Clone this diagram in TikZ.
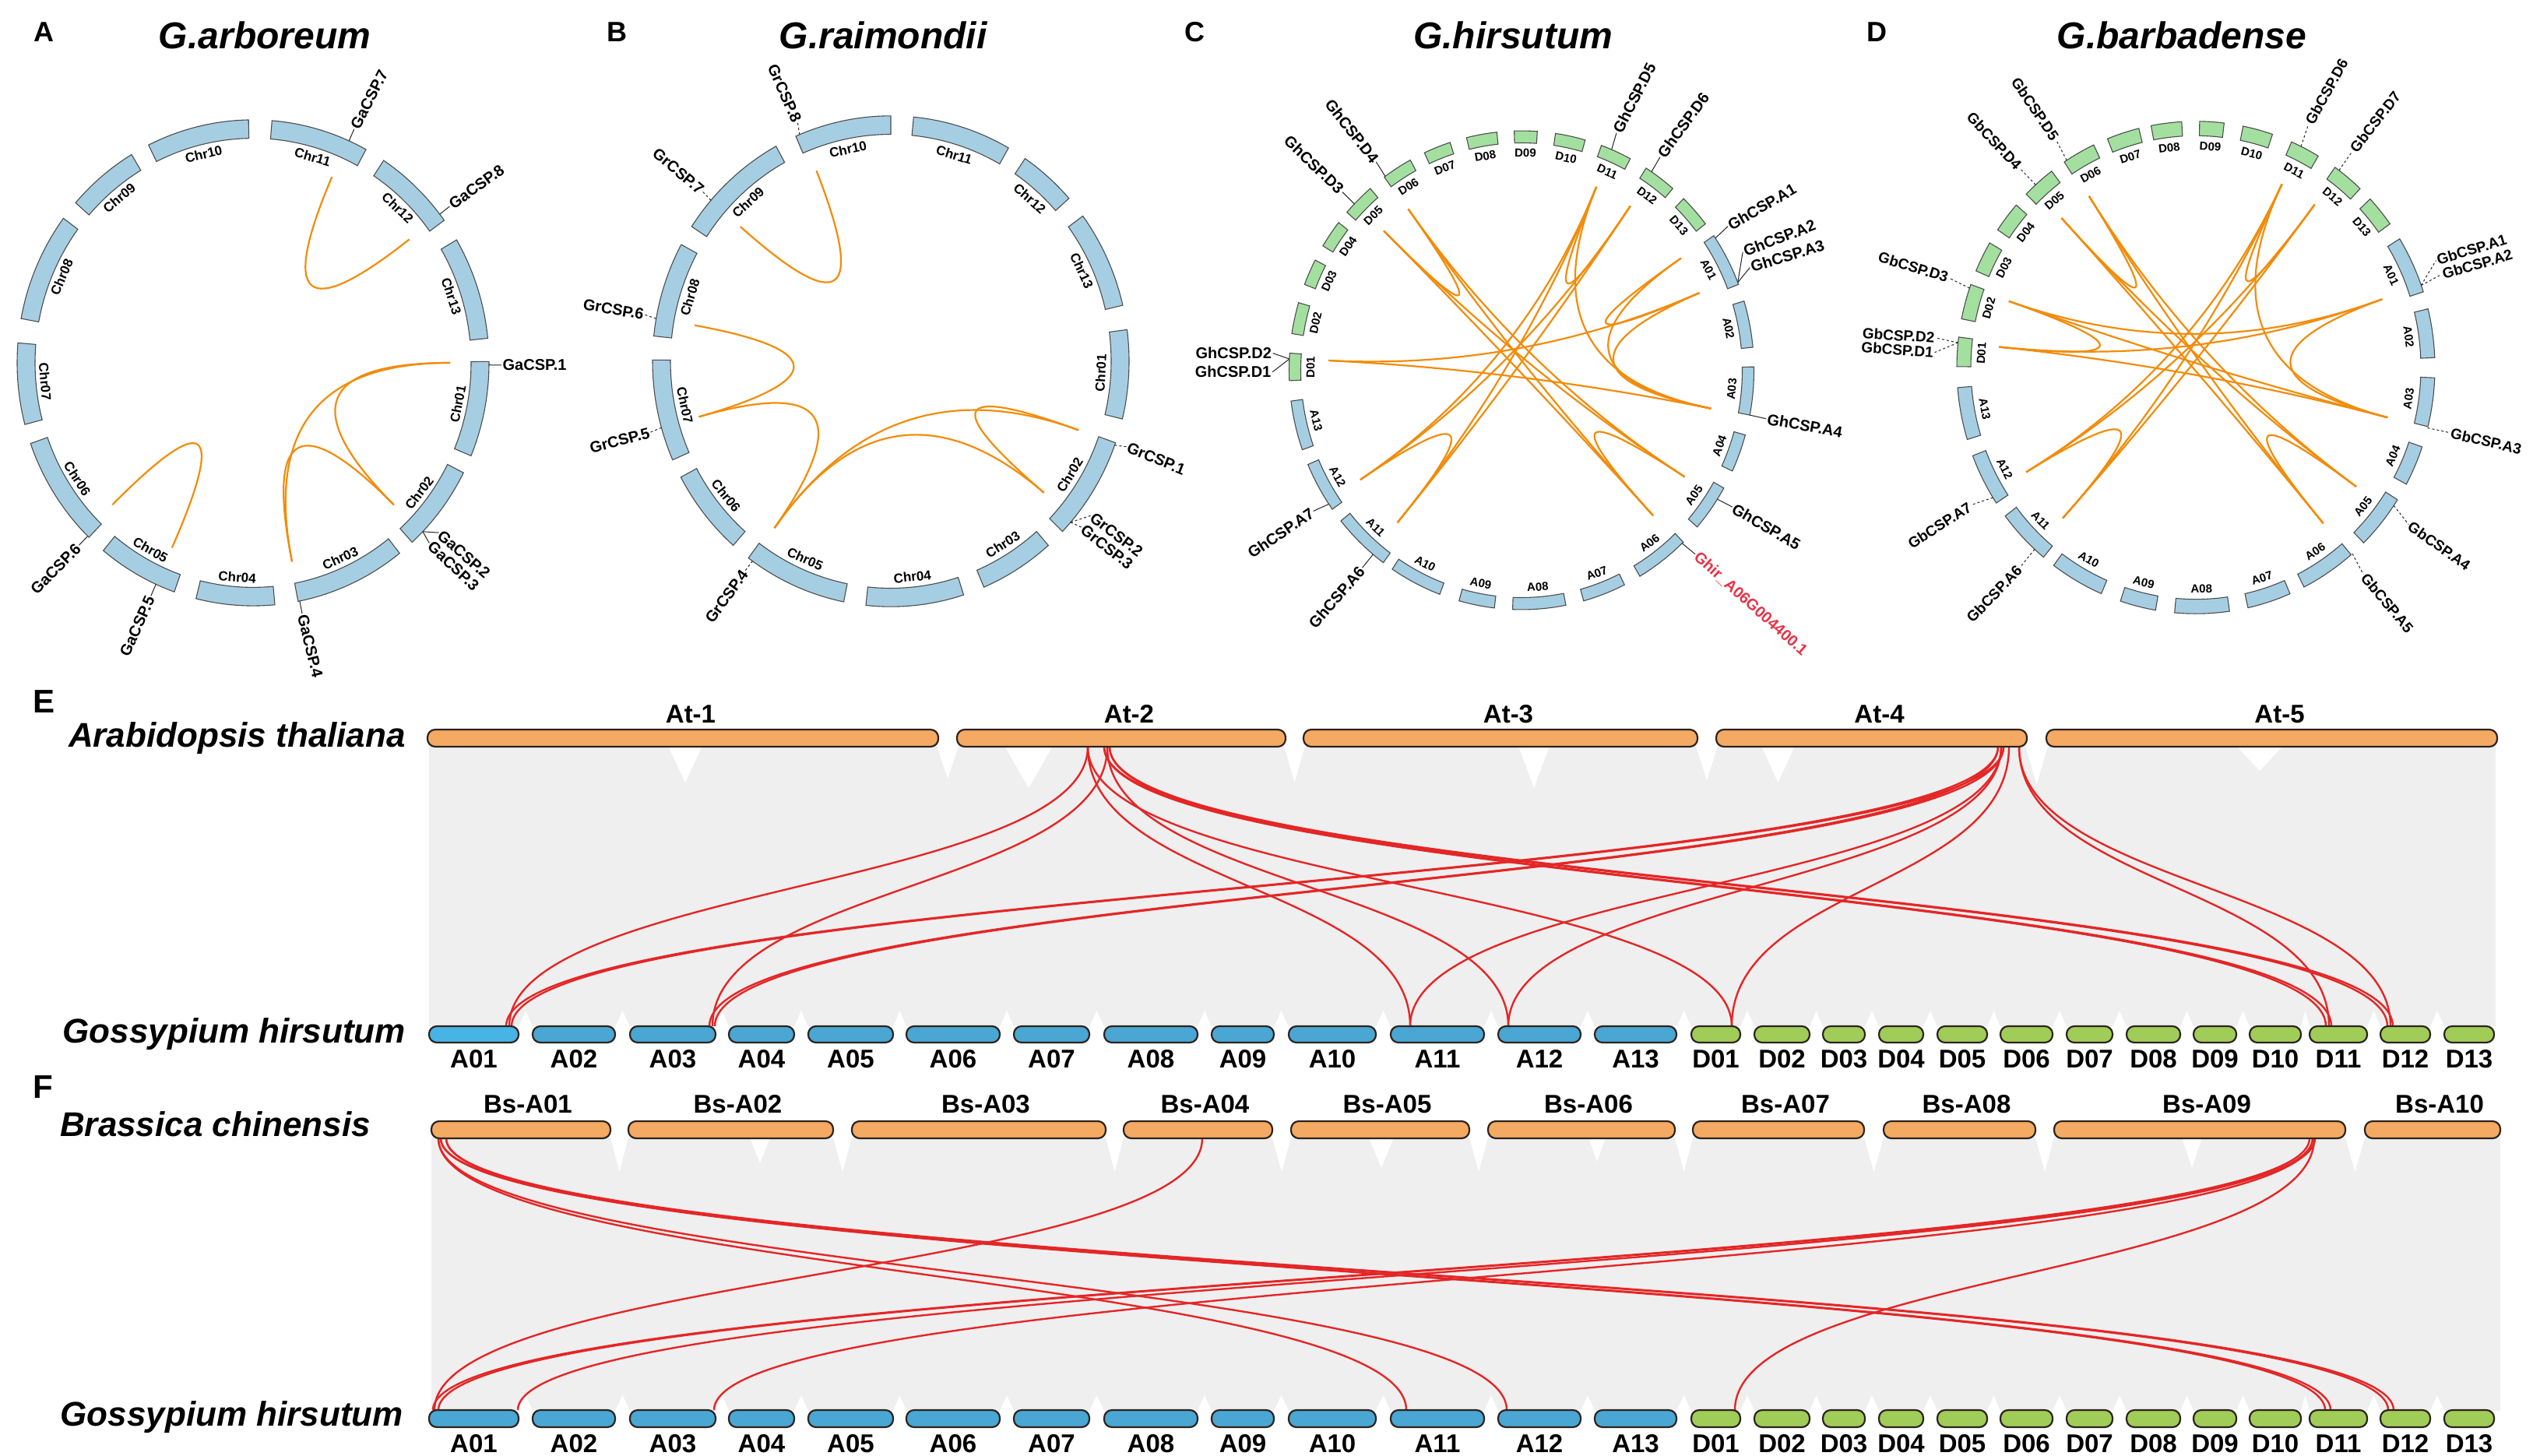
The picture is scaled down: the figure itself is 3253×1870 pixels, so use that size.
\documentclass[tikz,border=0pt]{standalone}
\usepackage{fontspec}
\setmainfont{Liberation Sans}
\definecolor{chrblue}{RGB}{166,206,227}
\definecolor{chrgreen}{RGB}{163,224,160}
\definecolor{linkorange}{RGB}{242,140,10}
\definecolor{atorange}{RGB}{244,170,98}
\definecolor{ghblue}{RGB}{74,166,210}
\definecolor{ghblueA}{RGB}{72,180,230}
\definecolor{ghgreen}{RGB}{160,204,88}
\definecolor{ribbon}{RGB}{239,239,239}
\definecolor{redlink}{RGB}{228,38,38}
\definecolor{ghirred}{RGB}{232,50,70}
\definecolor{barline}{RGB}{45,35,30}

\newcommand\ChrBar[4]{%
  \path[#4] (#1:\Ro) arc[start angle=#1, end angle=#2, radius=\Ro] -- (#2:\Ri) arc[start angle=#2, end angle=#1, radius=\Ri] -- cycle;%
  \pgfmathsetmacro\Cmid{(#1+#2)/2}%
  \pgfmathsetmacro\Crot{sin(\Cmid)>=0 ? \Cmid-90 : \Cmid+90}%
  \node[chrlab, rotate=\Crot] at (\Cmid:\Rl) {#3};%
}
\newcommand\GeneLab[5][black]{%
  \draw[leader] (#2:\Ro) -- (#3:\Rt);%
  \pgfmathsetmacro\Canc{cos(#3)>=0 ? 1 : 0}%
  \ifdim\Canc pt>0.5pt
    \node[genelab, text=#1, anchor=west, rotate=#4] at (#3:\Rt) {#5};%
  \else
    \node[genelab, text=#1, anchor=east, rotate=#4] at (#3:\Rt) {#5};%
  \fi
}
\newcommand\CLink[2]{\draw[circlink] (#1:\Rk) .. controls (#1:\Rkc) and (#2:\Rkc) .. (#2:\Rk);}
\newcommand\RLink[4]{\draw[redlk] (#1,#2) .. controls (#1,{(#2+#4)/2}) and (#3,{(#2+#4)/2}) .. (#3,#4);}
\newcommand\Spike[4]{\fill[white] (#1,#3) -- (#2,#3) -- ({(#1+#2)/2},#4) -- cycle;}

\begin{document}
\begin{tikzpicture}[x=1pt,y=-1pt,
  chrbar/.style={fill=chrblue, draw=black!70, line width=1.1},
  chrbarD/.style={fill=chrgreen, draw=black!70, line width=1.1},
  chrlab/.style={font=\fontsize{17}{17}\selectfont\bfseries, inner sep=0},
  genelab/.style={font=\fontsize{20}{20}\selectfont\bfseries, inner sep=1.5},
  leader/.style={draw=black!85, line width=1},
  circlink/.style={draw=linkorange, line width=2.2},
  title/.style={font=\fontsize{48}{48}\selectfont\bfseries\itshape, inner sep=0},
  letter/.style={font=\fontsize{36}{36}\selectfont\bfseries, inner sep=0},
  species/.style={font=\fontsize{44}{44}\selectfont\bfseries\itshape, inner sep=0},
  barlab/.style={font=\fontsize{33}{33}\selectfont\bfseries, inner sep=0},
  atbar/.style={fill=atorange, draw=barline, line width=2.2, rounded corners=10},
  ghbarA/.style={fill=ghblue, draw=barline, line width=2.2, rounded corners=10},
  ghbarD/.style={fill=ghgreen, draw=barline, line width=2.2, rounded corners=10},
  redlk/.style={draw=redlink, line width=2.4}
]
\useasboundingbox (0,0) rectangle (3253,1870);
\fill[white] (0,0) rectangle (3253,1870);

%% ---------- titles and letters ----------
\node[letter, anchor=base west] (lA) at (43,54) {A};
\node[letter, anchor=base west] (lB) at (779,54) {B};
\node[letter, anchor=base west] (lC) at (1521,54) {C};
\node[letter, anchor=base west] (lD) at (2397,54) {D};
\node[title, anchor=base] (tA) at (340,63) {G.arboreum};
\node[title, anchor=base] (tB) at (1134,63) {G.raimondii};
\node[title, anchor=base] (tC) at (1943,63) {G.hirsutum};
\node[title, anchor=base] (tD) at (2802,63) {G.barbadense};

%% ---------- panel A ----------
\begin{scope}[shift={(325,466)}, yscale=-1.03]
\def\Ro{303}\def\Ri{280}\def\Rl{268}\def\Rk{253}\def\Rkc{84.3}\def\Rt{319}
\ChrBar{0.3}{-22.5}{Chr01}{chrbar}
\ChrBar{-26.9}{-47.6}{Chr02}{chrbar}
\ChrBar{-51.6}{-79}{Chr03}{chrbar}
\ChrBar{-84.7}{-104}{Chr04}{chrbar}
\ChrBar{-109.5}{-129.4}{Chr05}{chrbar}
\ChrBar{-134.1}{-160.6}{Chr06}{chrbar}
\ChrBar{-165.3}{-184.7}{Chr07}{chrbar}
\ChrBar{169.5}{143.5}{Chr08}{chrbar}
\ChrBar{138.8}{121}{Chr09}{chrbar}
\ChrBar{116.3}{91.1}{Chr10}{chrbar}
\ChrBar{85.4}{61.4}{Chr11}{chrbar}
\ChrBar{56.4}{35.9}{Chr12}{chrbar}
\ChrBar{30.4}{5.8}{Chr13}{chrbar}
\GeneLab{-0.5}{-0.5}{0}{GaCSP.1}
\GeneLab{-44}{-41.6}{-41}{GaCSP.2}
\GeneLab{-44}{-44.8}{-43.5}{GaCSP.3}
\GeneLab{-78.6}{-78.6}{-76}{GaCSP.4}
\GeneLab{-114.3}{-114.3}{65.7}{GaCSP.5}
\GeneLab{-134.5}{-134.5}{45.5}{GaCSP.6}
\GeneLab{66}{66}{63}{GaCSP.7}
\GeneLab{37.7}{37.7}{36}{GaCSP.8}
\CLink{66.4}{37.5}
\CLink{0}{-78.6}
\CLink{0}{-44.4}
\CLink{-78.6}{-44.4}
\CLink{-135.6}{-114.3}
\end{scope}

%% ---------- panel B ----------
\begin{scope}[shift={(1144,464)}, yscale=-1.03, leader/.style={draw=black!85, line width=1, dashed}]
\def\Ro{306}\def\Ri{283}\def\Rl{270}\def\Rk{256}\def\Rkc{85.3}\def\Rt{321}
\ChrBar{7.4}{-13.6}{Chr01}{chrbar}
\ChrBar{-19.4}{-43.9}{Chr02}{chrbar}
\ChrBar{-48.6}{-67}{Chr03}{chrbar}
\ChrBar{-72.2}{-96}{Chr04}{chrbar}
\ChrBar{-101.4}{-126.7}{Chr05}{chrbar}
\ChrBar{-131.4}{-151.8}{Chr06}{chrbar}
\ChrBar{-156.3}{-180.3}{Chr07}{chrbar}
\ChrBar{174.1}{151.6}{Chr08}{chrbar}
\ChrBar{146.7}{118.8}{Chr09}{chrbar}
\ChrBar{113.5}{90}{Chr10}{chrbar}
\ChrBar{84.5}{60.4}{Chr11}{chrbar}
\ChrBar{55.7}{41.6}{Chr12}{chrbar}
\ChrBar{36.3}{13.2}{Chr13}{chrbar}
\GeneLab{-20}{-19.4}{-22}{GrCSP.1}
\GeneLab{-41}{-36.8}{-37}{GrCSP.2}
\GeneLab{-41}{-40.2}{-38}{GrCSP.3}
\GeneLab{-125.5}{-125.6}{54}{GrCSP.4}
\GeneLab{-164.3}{-164}{15}{GrCSP.5}
\GeneLab{170}{169.6}{-10}{GrCSP.6}
\GeneLab{139}{138.8}{-40}{GrCSP.7}
\GeneLab{112.5}{111.9}{-66}{GrCSP.8}
\CLink{111.9}{139}
\CLink{169.9}{-164.3}
\CLink{-164.3}{-125.7}
\CLink{-125.7}{-19.6}
\CLink{-125.7}{-39.8}
\CLink{-19.6}{-39.8}
\end{scope}

%% ---------- panel C ----------
\begin{scope}[shift={(1954,475.5)}, yscale=-1.03,
  chrlab/.style={font=\fontsize{15}{15}\selectfont\bfseries, inner sep=0}]
\def\Ro{298.5}\def\Ri{283.5}\def\Rl{271}\def\Rk{248}\def\Rkc{82.7}\def\Rt{320}
\ChrBar{34.2}{21}{A01}{chrbar}
\ChrBar{16.8}{5.5}{A02}{chrbar}
\ChrBar{0.8}{-10.8}{A03}{chrbar}
\ChrBar{-15.7}{-24.9}{A04}{chrbar}
\ChrBar{-29.5}{-40.9}{A05}{chrbar}
\ChrBar{-45.9}{-59.4}{A06}{chrbar}
\ChrBar{-63.7}{-74.5}{A07}{chrbar}
\ChrBar{-79}{-92.2}{A08}{chrbar}
\ChrBar{-96.7}{-105.6}{A09}{chrbar}
\ChrBar{-110.6}{-123.8}{A10}{chrbar}
\ChrBar{-126.5}{-141}{A11}{chrbar}
\ChrBar{-144.5}{-156.8}{A12}{chrbar}
\ChrBar{-160.6}{-172.6}{A13}{chrbar}
\ChrBar{-177.5}{-184.1}{D01}{chrbarD}
\ChrBar{171.2}{163.6}{D02}{chrbarD}
\ChrBar{159}{152.6}{D03}{chrbarD}
\ChrBar{148.7}{141.9}{D04}{chrbarD}
\ChrBar{138.7}{130.6}{D05}{chrbarD}
\ChrBar{126.2}{118.6}{D06}{chrbarD}
\ChrBar{114.7}{107.9}{D07}{chrbarD}
\ChrBar{103.7}{96.1}{D08}{chrbarD}
\ChrBar{91.8}{86.1}{D09}{chrbarD}
\ChrBar{81.6}{74.1}{D10}{chrbarD}
\ChrBar{69.9}{62.1}{D11}{chrbarD}
\ChrBar{57.6}{49.4}{D12}{chrbarD}
\ChrBar{45.8}{37.7}{D13}{chrbarD}
\GeneLab{33.5}{34.1}{30}{GhCSP.A1}
\GeneLab{21.5}{27.4}{21}{GhCSP.A2}
\GeneLab{21.5}{23.6}{17}{GhCSP.A3}
\GeneLab{-10.8}{-10.9}{-10}{GhCSP.A4}
\GeneLab{-32.6}{-32.2}{-30}{GhCSP.A5}
\GeneLab[ghirred]{-46.3}{-45.8}{-42}{Ghir\_A06G004400.1}
\GeneLab{-129.7}{-129.7}{49}{GhCSP.A6}
\GeneLab{-146}{-146.7}{34}{GhCSP.A7}
\GeneLab{177.3}{176.2}{0}{GhCSP.D2}
\GeneLab{177.3}{180.4}{0}{GhCSP.D1}
\GeneLab{136}{136}{-44}{GhCSP.D3}
\GeneLab{125.9}{125.7}{-52}{GhCSP.D4}
\GeneLab{67.2}{67.6}{63}{GhCSP.D5}
\GeneLab{56}{56.2}{54}{GhCSP.D6}
\CLink{177.2}{22.9}
\CLink{177.2}{-11.1}
\CLink{125.9}{135.5}
\CLink{34.3}{22.9}
\CLink{34.3}{-11.1}
\CLink{22.9}{-11.1}
\CLink{67.2}{-11.1}
\CLink{-130}{-146.6}
\CLink{-32.4}{-47}
\CLink{67.2}{55.7}
\CLink{125.9}{-32.4}
\CLink{125.9}{-47}
\CLink{135.5}{-32.4}
\CLink{135.5}{-47}
\CLink{67.2}{-130}
\CLink{67.2}{-146.6}
\CLink{55.7}{-130}
\CLink{55.7}{-146.6}
\end{scope}

%% ---------- panel D ----------
\begin{scope}[shift={(2820,472)}, yscale=-1.03,
  chrlab/.style={font=\fontsize{15}{15}\selectfont\bfseries, inner sep=0},
  genelab/.style={font=\fontsize{19}{19}\selectfont\bfseries, inner sep=1.5},
  leader/.style={draw=black!85, line width=1, dashed}]
\def\Ro{307}\def\Ri{289}\def\Rl{276}\def\Rk{254}\def\Rkc{84.7}\def\Rt{336}
\ChrBar{31.5}{17.9}{A01}{chrbar}
\ChrBar{13.8}{2.3}{A02}{chrbar}
\ChrBar{-2.4}{-13.9}{A03}{chrbar}
\ChrBar{-18.8}{-28.3}{A04}{chrbar}
\ChrBar{-32.5}{-45.4}{A05}{chrbar}
\ChrBar{-49.5}{-63.1}{A06}{chrbar}
\ChrBar{-66.8}{-77.4}{A07}{chrbar}
\ChrBar{-81.9}{-95.1}{A08}{chrbar}
\ChrBar{-99.7}{-108.4}{A09}{chrbar}
\ChrBar{-113.3}{-126.5}{A10}{chrbar}
\ChrBar{-129.6}{-142.9}{A11}{chrbar}
\ChrBar{-146.6}{-159}{A12}{chrbar}
\ChrBar{-163}{-175.3}{A13}{chrbar}
\ChrBar{-180.2}{-187.1}{D01}{chrbarD}
\ChrBar{168.6}{160.3}{D02}{chrbarD}
\ChrBar{156.9}{149.6}{D03}{chrbarD}
\ChrBar{146}{138.7}{D04}{chrbarD}
\ChrBar{135.2}{127.1}{D05}{chrbarD}
\ChrBar{123.4}{115.3}{D06}{chrbarD}
\ChrBar{111.7}{103.8}{D07}{chrbarD}
\ChrBar{100.8}{93.4}{D08}{chrbarD}
\ChrBar{89.1}{83.2}{D09}{chrbarD}
\ChrBar{78.6}{71.3}{D10}{chrbarD}
\ChrBar{66.4}{59.2}{D11}{chrbarD}
\ChrBar{54.4}{46.6}{D12}{chrbarD}
\ChrBar{43.2}{35.7}{D13}{chrbarD}
\GeneLab{19.5}{23.4}{17}{GbCSP.A1}
\GeneLab{19.5}{20.2}{16}{GbCSP.A2}
\GeneLab{-14.2}{-14}{-13}{GbCSP.A3}
\GeneLab{-34.1}{-35.6}{-35}{GbCSP.A4}
\GeneLab{-49.1}{-50.2}{-50}{GbCSP.A5}
\GeneLab{-132.4}{-132.2}{46}{GbCSP.A6}
\GeneLab{-148.1}{-149.3}{33}{GbCSP.A7}
\GeneLab{174.2}{173.7}{-4}{GbCSP.D2}
\GeneLab{174.2}{176.8}{-4}{GbCSP.D1}
\GeneLab{161.2}{160.6}{-17}{GbCSP.D3}
\GeneLab{132.1}{132.3}{-47}{GbCSP.D4}
\GeneLab{122.7}{122.3}{-56}{GbCSP.D5}
\GeneLab{63.9}{64.5}{61}{GbCSP.D6}
\GeneLab{53.2}{53.3}{52}{GbCSP.D7}
\CLink{161}{174.2}
\CLink{161}{19.6}
\CLink{161}{-14.2}
\CLink{174.2}{19.6}
\CLink{174.2}{-14.2}
\CLink{19.6}{-14.2}
\CLink{64.2}{-14.2}
\CLink{64.2}{53.1}
\CLink{122.7}{132.8}
\CLink{-35.8}{-49.9}
\CLink{-132.3}{-149.1}
\CLink{122.7}{-35.8}
\CLink{122.7}{-49.9}
\CLink{132.8}{-35.8}
\CLink{132.8}{-49.9}
\CLink{64.2}{-132.3}
\CLink{64.2}{-149.1}
\CLink{53.1}{-132.3}
\CLink{53.1}{-149.1}
\end{scope}

%% ---------- panel E ----------
\node[letter, font=\fontsize{42}{42}\selectfont\bfseries, anchor=base west] (lE) at (42,915) {E};
\fill[ribbon] (551,958) rectangle (3205,1318);
\Spike{1203}{1231}{958}{1000}
\Spike{1649}{1676}{958}{1005}
\Spike{2178}{2206}{958}{1002}
\Spike{2601}{2630}{958}{1008}
\Spike{858}{902}{958}{1005}
\Spike{1290}{1352}{958}{1012}
\Spike{1950}{1990}{958}{1012}
\Spike{2262}{2305}{958}{1005}
\Spike{2872}{2932}{958}{990}
\foreach \a/\b in {666/684,790/809,919/936,1020/1038,1147/1164,1284/1302,1399/1418,1538/1556,1636/1655,1767/1786,1906/1924,2030/2048,2153/2172,2235/2253,2324/2341,2395/2413,2470/2488,2552/2569,2636/2654,2713/2731,2800/2817,2872/2889,2955/2966,3040/3057,3121/3139}
  {\Spike{\a}{\b}{1319}{1298}}
% red links E
\RLink{1397}{959}{654}{1318}
\RLink{1422}{959}{915}{1318}
\RLink{1397}{959}{1811}{1318}
\RLink{1422}{959}{1937}{1318}
\RLink{1397}{959}{2224}{1318}
\RLink{1418}{959}{2987}{1318}
\RLink{1425}{959}{2994}{1318}
\RLink{1418}{959}{3066}{1318}
\RLink{1425}{959}{3073}{1318}
\RLink{2566}{959}{650}{1318}
\RLink{2573}{959}{657}{1318}
\RLink{2566}{959}{911}{1318}
\RLink{2573}{959}{918}{1318}
\RLink{2570}{959}{1811}{1318}
\RLink{2570}{959}{1937}{1318}
\RLink{2580}{959}{2224}{1318}
\RLink{2593}{959}{2991}{1318}
\RLink{2593}{959}{3070}{1318}
% bars E
\foreach \a/\b/\n in {549/1205/At-1, 1229/1651/At-2, 1674/2180/At-3, 2204/2603/At-4, 2628/3207/At-5}{
  \draw[atbar] (\a,937) rectangle (\b,959);
  \node[barlab, anchor=base] at ({(\a+\b)/2+10},928) {\n};
}
\node[species, anchor=base east] (spE1) at (521,959) {Arabidopsis thaliana};
\node[species, anchor=base east] (spE2) at (521,1339) {Gossypium hirsutum};
\foreach \a/\b/\n [count=\i] in {551/666/A01, 684/790/A02, 809/919/A03, 936/1020/A04, 1038/1147/A05, 1164/1284/A06, 1302/1399/A07, 1418/1538/A08, 1556/1636/A09, 1655/1767/A10, 1786/1906/A11, 1924/2030/A12, 2048/2153/A13}{
  \ifnum\i=1 \draw[ghbarA, fill=ghblueA] (\a,1318) rectangle (\b,1339);
  \else \draw[ghbarA] (\a,1318) rectangle (\b,1339); \fi
  \node[barlab, anchor=base] at ({(\a+\b)/2},1371) {\n};
}
\foreach \a/\b/\n in {2172/2235/D01, 2253/2324/D02, 2341/2395/D03, 2413/2470/D04, 2488/2552/D05, 2569/2636/D06, 2654/2713/D07, 2731/2800/D08, 2817/2872/D09, 2889/2955/D10, 2966/3040/D11, 3057/3121/D12, 3139/3203/D13}{
  \draw[ghbarD] (\a,1318) rectangle (\b,1339);
  \node[barlab, anchor=base] at ({(\a+\b)/2},1371) {\n};
}

%% ---------- panel F ----------
\node[letter, font=\fontsize{42}{42}\selectfont\bfseries, anchor=base west] (lF) at (42,1410) {F};
\fill[ribbon] (554,1461) rectangle (3211,1812);
\foreach \a/\b in {784/807,1070/1094,1420/1443,1634/1658,1887/1911,2151/2174,2394/2419,2614/2638,3012/3037}
  {\Spike{\a}{\b}{1461}{1505}}
\Spike{963}{989}{1461}{1494}
\Spike{1758}{1790}{1461}{1500}
\Spike{2802}{2828}{1461}{1500}
\Spike{2040}{2062}{1461}{1492}
\foreach \a/\b in {666/684,790/809,919/936,1020/1038,1147/1164,1284/1302,1399/1418,1538/1556,1636/1655,1767/1786,1906/1924,2030/2048,2153/2172,2235/2253,2324/2341,2395/2413,2470/2488,2552/2569,2636/2654,2713/2731,2800/2817,2872/2889,2955/2966,3040/3057,3121/3139}
  {\Spike{\a}{\b}{1812}{1792}}
% red links F
\RLink{563}{1462}{1806}{1811}
\RLink{563}{1462}{1935}{1811}
\RLink{566}{1462}{2986}{1811}
\RLink{573}{1462}{2993}{1811}
\RLink{566}{1462}{3067}{1811}
\RLink{573}{1462}{3074}{1811}
\RLink{1544}{1462}{558}{1811}
\RLink{2966}{1462}{556}{1811}
\RLink{2973}{1462}{563}{1811}
\RLink{2970}{1462}{665}{1811}
\RLink{2970}{1462}{917}{1811}
\RLink{2972}{1462}{2228}{1811}
% bars F
\foreach \a/\b/\n in {554/784/Bs-A01, 807/1070/Bs-A02, 1094/1420/Bs-A03, 1443/1634/Bs-A04, 1658/1887/Bs-A05, 1911/2151/Bs-A06, 2174/2394/Bs-A07, 2419/2614/Bs-A08, 2638/3012/Bs-A09, 3037/3211/Bs-A10}{
  \draw[atbar] (\a,1440) rectangle (\b,1462);
  \node[barlab, anchor=base] at ({(\a+\b)/2+9},1429) {\n};
}
\node[species, anchor=base east] (spF1) at (476,1459) {Brassica chinensis};
\node[species, anchor=base east] (spF2) at (518,1831) {Gossypium hirsutum};
\foreach \a/\b/\n in {551/666/A01, 684/790/A02, 809/919/A03, 936/1020/A04, 1038/1147/A05, 1164/1284/A06, 1302/1399/A07, 1418/1538/A08, 1556/1636/A09, 1655/1767/A10, 1786/1906/A11, 1924/2030/A12, 2048/2153/A13}{
  \draw[ghbarA] (\a,1811) rectangle (\b,1833);
  \node[barlab, anchor=base] at ({(\a+\b)/2},1865) {\n};
}
\foreach \a/\b/\n in {2172/2235/D01, 2253/2324/D02, 2341/2395/D03, 2413/2470/D04, 2488/2552/D05, 2569/2636/D06, 2654/2713/D07, 2731/2800/D08, 2817/2872/D09, 2889/2955/D10, 2966/3040/D11, 3057/3121/D12, 3139/3203/D13}{
  \draw[ghbarD] (\a,1811) rectangle (\b,1833);
  \node[barlab, anchor=base] at ({(\a+\b)/2},1865) {\n};
}
\end{tikzpicture}
\end{document}
